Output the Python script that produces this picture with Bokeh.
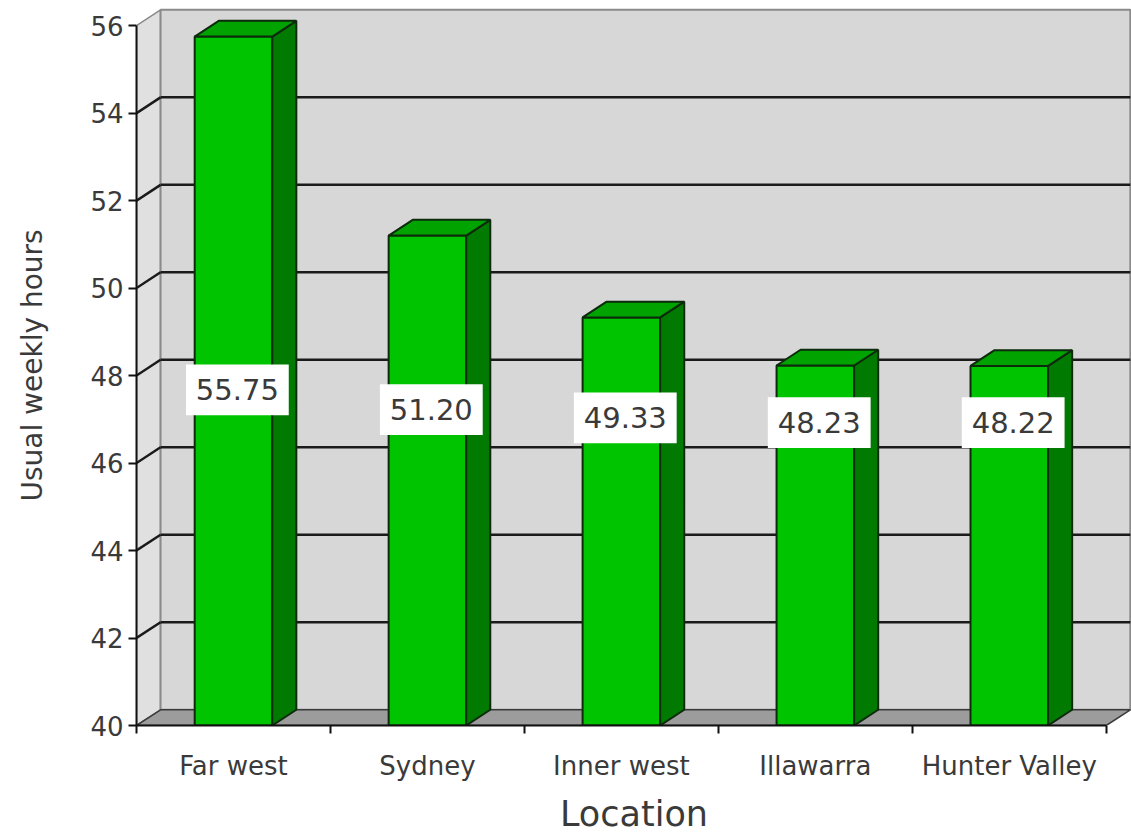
from bokeh.plotting import figure
from bokeh.models import Range1d, FixedTicker
from bokeh.core.properties import value
from bokeh.embed import file_html
from bokeh.resources import INLINE

# Usual weekly hours by location
locations = ["Far west", "Sydney", "Inner west", "Illawarra", "Hunter Valley"]
hours = [55.75, 51.20, 49.33, 48.23, 48.22]
y_ticks = [40, 42, 44, 46, 48, 50, 52, 54, 56]

FONT = "DejaVu Sans"
TEXT = "#3a3a3a"
Y0, Y1 = y_ticks[0], y_ticks[-1]
n = len(locations)
DX, DY = 0.124, 0.36      # depth of the pseudo-3D box, in data units
BAR_W = 0.40              # width of each bar's front face

p = figure(width=1131, height=836, output_backend="svg", toolbar_location=None,
           x_range=Range1d(0, n + 0.13), y_range=Range1d(Y0, Y1 + 0.46),
           min_border_left=136, min_border_right=0, min_border_top=5,
           min_border_bottom=108)
p.outline_line_color = None
p.xgrid.visible = False
p.ygrid.visible = False
p.background_fill_color = "white"

# walls and floor
p.patch([0, DX, DX, 0], [Y0, Y0 + DY, Y1 + DY, Y1],
        fill_color="#e0e0e0", line_color="#8a8a8a", line_width=1.5)
p.patch([DX, n + DX, n + DX, DX], [Y0 + DY, Y0 + DY, Y1 + DY, Y1 + DY],
        fill_color="#d7d7d7", line_color="#8a8a8a", line_width=2)
p.patch([0, n, n + DX, DX], [Y0, Y0, Y0 + DY, Y0 + DY],
        fill_color="#9c9c9c", line_color="#3a3a3a", line_width=1.5)

# grid lines on the back and side walls
inner = y_ticks[1:-1]
p.segment(x0=[DX] * len(inner), y0=[v + DY for v in inner],
          x1=[n + DX] * len(inner), y1=[v + DY for v in inner],
          line_color="#1a1a1a", line_width=2.5)
p.segment(x0=[0] * len(inner), y0=inner,
          x1=[DX] * len(inner), y1=[v + DY for v in inner],
          line_color="#1a1a1a", line_width=2.5)

# bars: front, side and top faces
centers = [i + 0.5 for i in range(n)]
lefts = [c - BAR_W / 2 for c in centers]
rights = [c + BAR_W / 2 for c in centers]
p.quad(left=lefts, right=rights, bottom=[Y0] * n, top=hours,
       fill_color="#00c400", line_color="#0d2a0d", line_width=2)
p.patches(xs=[[r, r + DX, r + DX, r] for r in rights],
          ys=[[Y0, Y0 + DY, h + DY, h] for h in hours],
          fill_color="#007a00", line_color="#0d2a0d", line_width=2)
p.patches(xs=[[l, r, r + DX, l + DX] for l, r in zip(lefts, rights)],
          ys=[[h, h, h + DY, h + DY] for h in hours],
          fill_color="#00a300", line_color="#0d2a0d", line_width=2)

# value labels in white boxes
label_y = [46.9 + 0.1 * (h - 48) for h in hours]
label_x = [c + 0.02 for c in centers]
p.rect(x=label_x, y=label_y, width=0.53, height=1.16,
       fill_color="white", line_color=None)
p.text(x=label_x, y=label_y, text=[f"{h:.2f}" for h in hours],
       text_align="center", text_baseline="middle",
       text_font=value(FONT), text_font_size="29px", text_color=TEXT)

# axes
ya = p.yaxis[0]
ya.ticker = FixedTicker(ticks=y_ticks)
ya.bounds = (Y0, Y1)
ya.axis_line_width = 2
ya.axis_line_color = "#111111"
ya.major_tick_in = 0
ya.major_tick_out = 8
ya.major_tick_line_width = 2
ya.major_tick_line_color = "#111111"
ya.minor_tick_line_color = None
ya.major_label_text_font = FONT
ya.major_label_text_font_size = "26px"
ya.major_label_text_color = TEXT
ya.major_label_standoff = 5
ya.axis_label = "Usual weekly hours"
ya.axis_label_text_font = FONT
ya.axis_label_text_font_size = "28px"
ya.axis_label_text_font_style = "normal"
ya.axis_label_text_color = TEXT
ya.axis_label_standoff = 38

xa = p.xaxis[0]
xa.ticker = FixedTicker(ticks=centers, minor_ticks=list(range(n + 1)))
xa.major_label_overrides = {c: loc for c, loc in zip(centers, locations)}
xa.bounds = (0, n)
xa.axis_line_width = 2
xa.axis_line_color = "#111111"
xa.major_tick_in = 0
xa.major_tick_out = 0
xa.minor_tick_in = 0
xa.minor_tick_out = 8
xa.minor_tick_line_width = 2
xa.minor_tick_line_color = "#111111"
xa.major_label_text_font = FONT
xa.major_label_text_font_size = "26px"
xa.major_label_text_color = TEXT
xa.major_label_standoff = 17
xa.axis_label = "Location"
xa.axis_label_text_font = FONT
xa.axis_label_text_font_size = "35px"
xa.axis_label_text_font_style = "normal"
xa.axis_label_text_color = TEXT
xa.axis_label_standoff = 10

open("out.html", "w").write(file_html(p, INLINE))
